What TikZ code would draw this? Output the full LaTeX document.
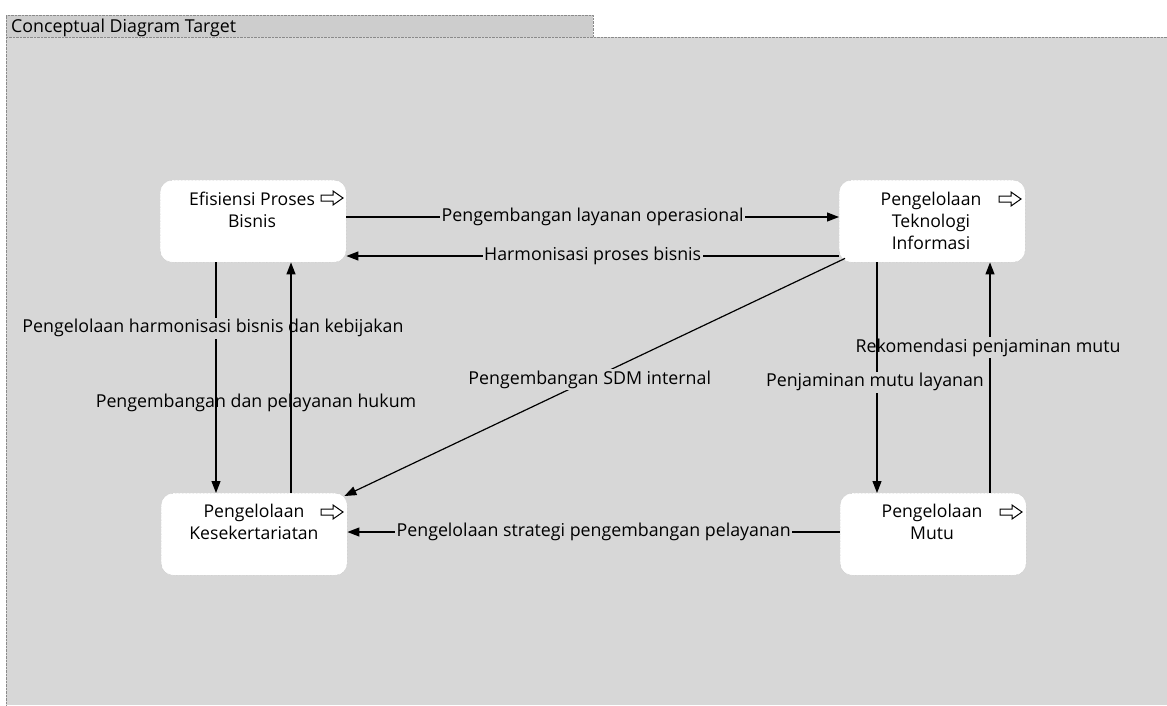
\documentclass[tikz,border=0pt]{standalone}
\usepackage{fontspec}
\setmainfont{Open Sans}
\usetikzlibrary{arrows.meta,calc}
\definecolor{bg}{HTML}{D7D7D7}
\definecolor{tabc}{HTML}{CDCDCD}
\definecolor{frm}{HTML}{8A8A8A}
\begin{document}
\begin{tikzpicture}[x=1pt,y=-1pt,
  box/.style={draw=gray!60, densely dotted, fill=white, rounded corners=12pt,
    minimum width=186pt, minimum height=82pt, anchor=north west, inner sep=0pt},
  btxt/.style={font=\fontsize{17.6}{22}\selectfont, align=center, inner sep=0pt},
  lbl/.style={font=\fontsize{17.8}{20}\selectfont, inner sep=1.5pt},
  lblf/.style={lbl, fill=bg},
  conn/.style={draw=black, line width=1.2pt, -{Triangle[length=12pt,width=9pt]}},
  wa/.style={draw=black, line width=1pt, fill=white, line join=miter}
]
\useasboundingbox (0,0) rectangle (1167,705);
\fill[white] (0,0) rectangle (1167,705);
% frame
\fill[bg] (6,37) rectangle (1167,705);
\draw[frm, densely dotted] (6,705) -- (6,37) -- (1167,37);
\fill[tabc] (6,15) rectangle (593,37);
\draw[frm, densely dotted] (6,37) -- (6,15) -- (593,15) -- (593,37);
\node[font=\fontsize{17.8}{20}\selectfont, anchor=west, inner sep=0pt] (title) at (11,27.5) {Conceptual Diagram Target};
% boxes
\node[box] (ef)  at (160,180) {};
\node[box] (ti)  at (839,180) {};
\node[box] (kes) at (161,493) {};
\node[box] (mu)  at (840,493) {};
\node[btxt] (tef)  at (252,210) {Efisiensi Proses\\Bisnis};
\node[btxt] (tti)  at (931,221) {Pengelolaan\\Teknologi\\Informasi};
\node[btxt] (tkes) at (254,522) {Pengelolaan\\Kesekertariatan};
\node[btxt] (tmu)  at (932,522) {Pengelolaan\\Mutu};
% white arrows
\foreach \nm/\x/\y in {aef/321/198, ati/999/199, akes/321/512, amu/1000/512}{
  \draw[wa] (\x,\y-3) -- (\x+12,\y-3) -- (\x+12,\y-7) -- (\x+22,\y) -- (\x+12,\y+7) -- (\x+12,\y+3) -- (\x,\y+3) -- cycle;
}
% connectors
\draw[conn] ($(ef.north east)+(0,37)$) -- node[lblf, pos=0.5] (l1) {Pengembangan layanan operasional} ($(ti.north west)+(0,37)$);
\draw[conn] ($(ti.north west)+(0,76)$) -- node[lblf, pos=0.5] (l2) {Harmonisasi proses bisnis} ($(ef.north east)+(0,76)$);
\draw[conn] ($(ef.south west)+(56,0)$) -- node[lblf, pos=0.286, xshift=-3pt] (l3) {Pengelolaan harmonisasi bisnis dan kebijakan} ($(kes.north west)+(55,0)$);
\draw[conn] ($(kes.north west)+(130,0)$) -- node[lbl, pos=0.39, xshift=-35pt] (l4) {Pengembangan dan pelayanan hukum} ($(ef.south west)+(131,0)$);
\draw[conn] ($(ti.south west)+(6,-4)$) -- node[lblf, pos=0.51] (l5) {Pengembangan SDM internal} ($(kes.north east)+(-3,3)$);
\draw[conn] ($(mu.north west)+(150,0)$) -- node[lblf, pos=0.63, xshift=-2pt] (l6) {Rekomendasi penjaminan mutu} ($(ti.south west)+(151,0)$);
\draw[conn] ($(ti.south west)+(38,0)$) -- node[lblf, pos=0.52, xshift=-2pt] (l7) {Penjaminan mutu layanan} ($(mu.north west)+(37,0)$);
\draw[conn] ($(mu.north west)+(0,39)$) -- node[lblf, pos=0.5] (l8) {Pengelolaan strategi pengembangan pelayanan} ($(kes.north east)+(0,39)$);
\end{tikzpicture}
\end{document}
